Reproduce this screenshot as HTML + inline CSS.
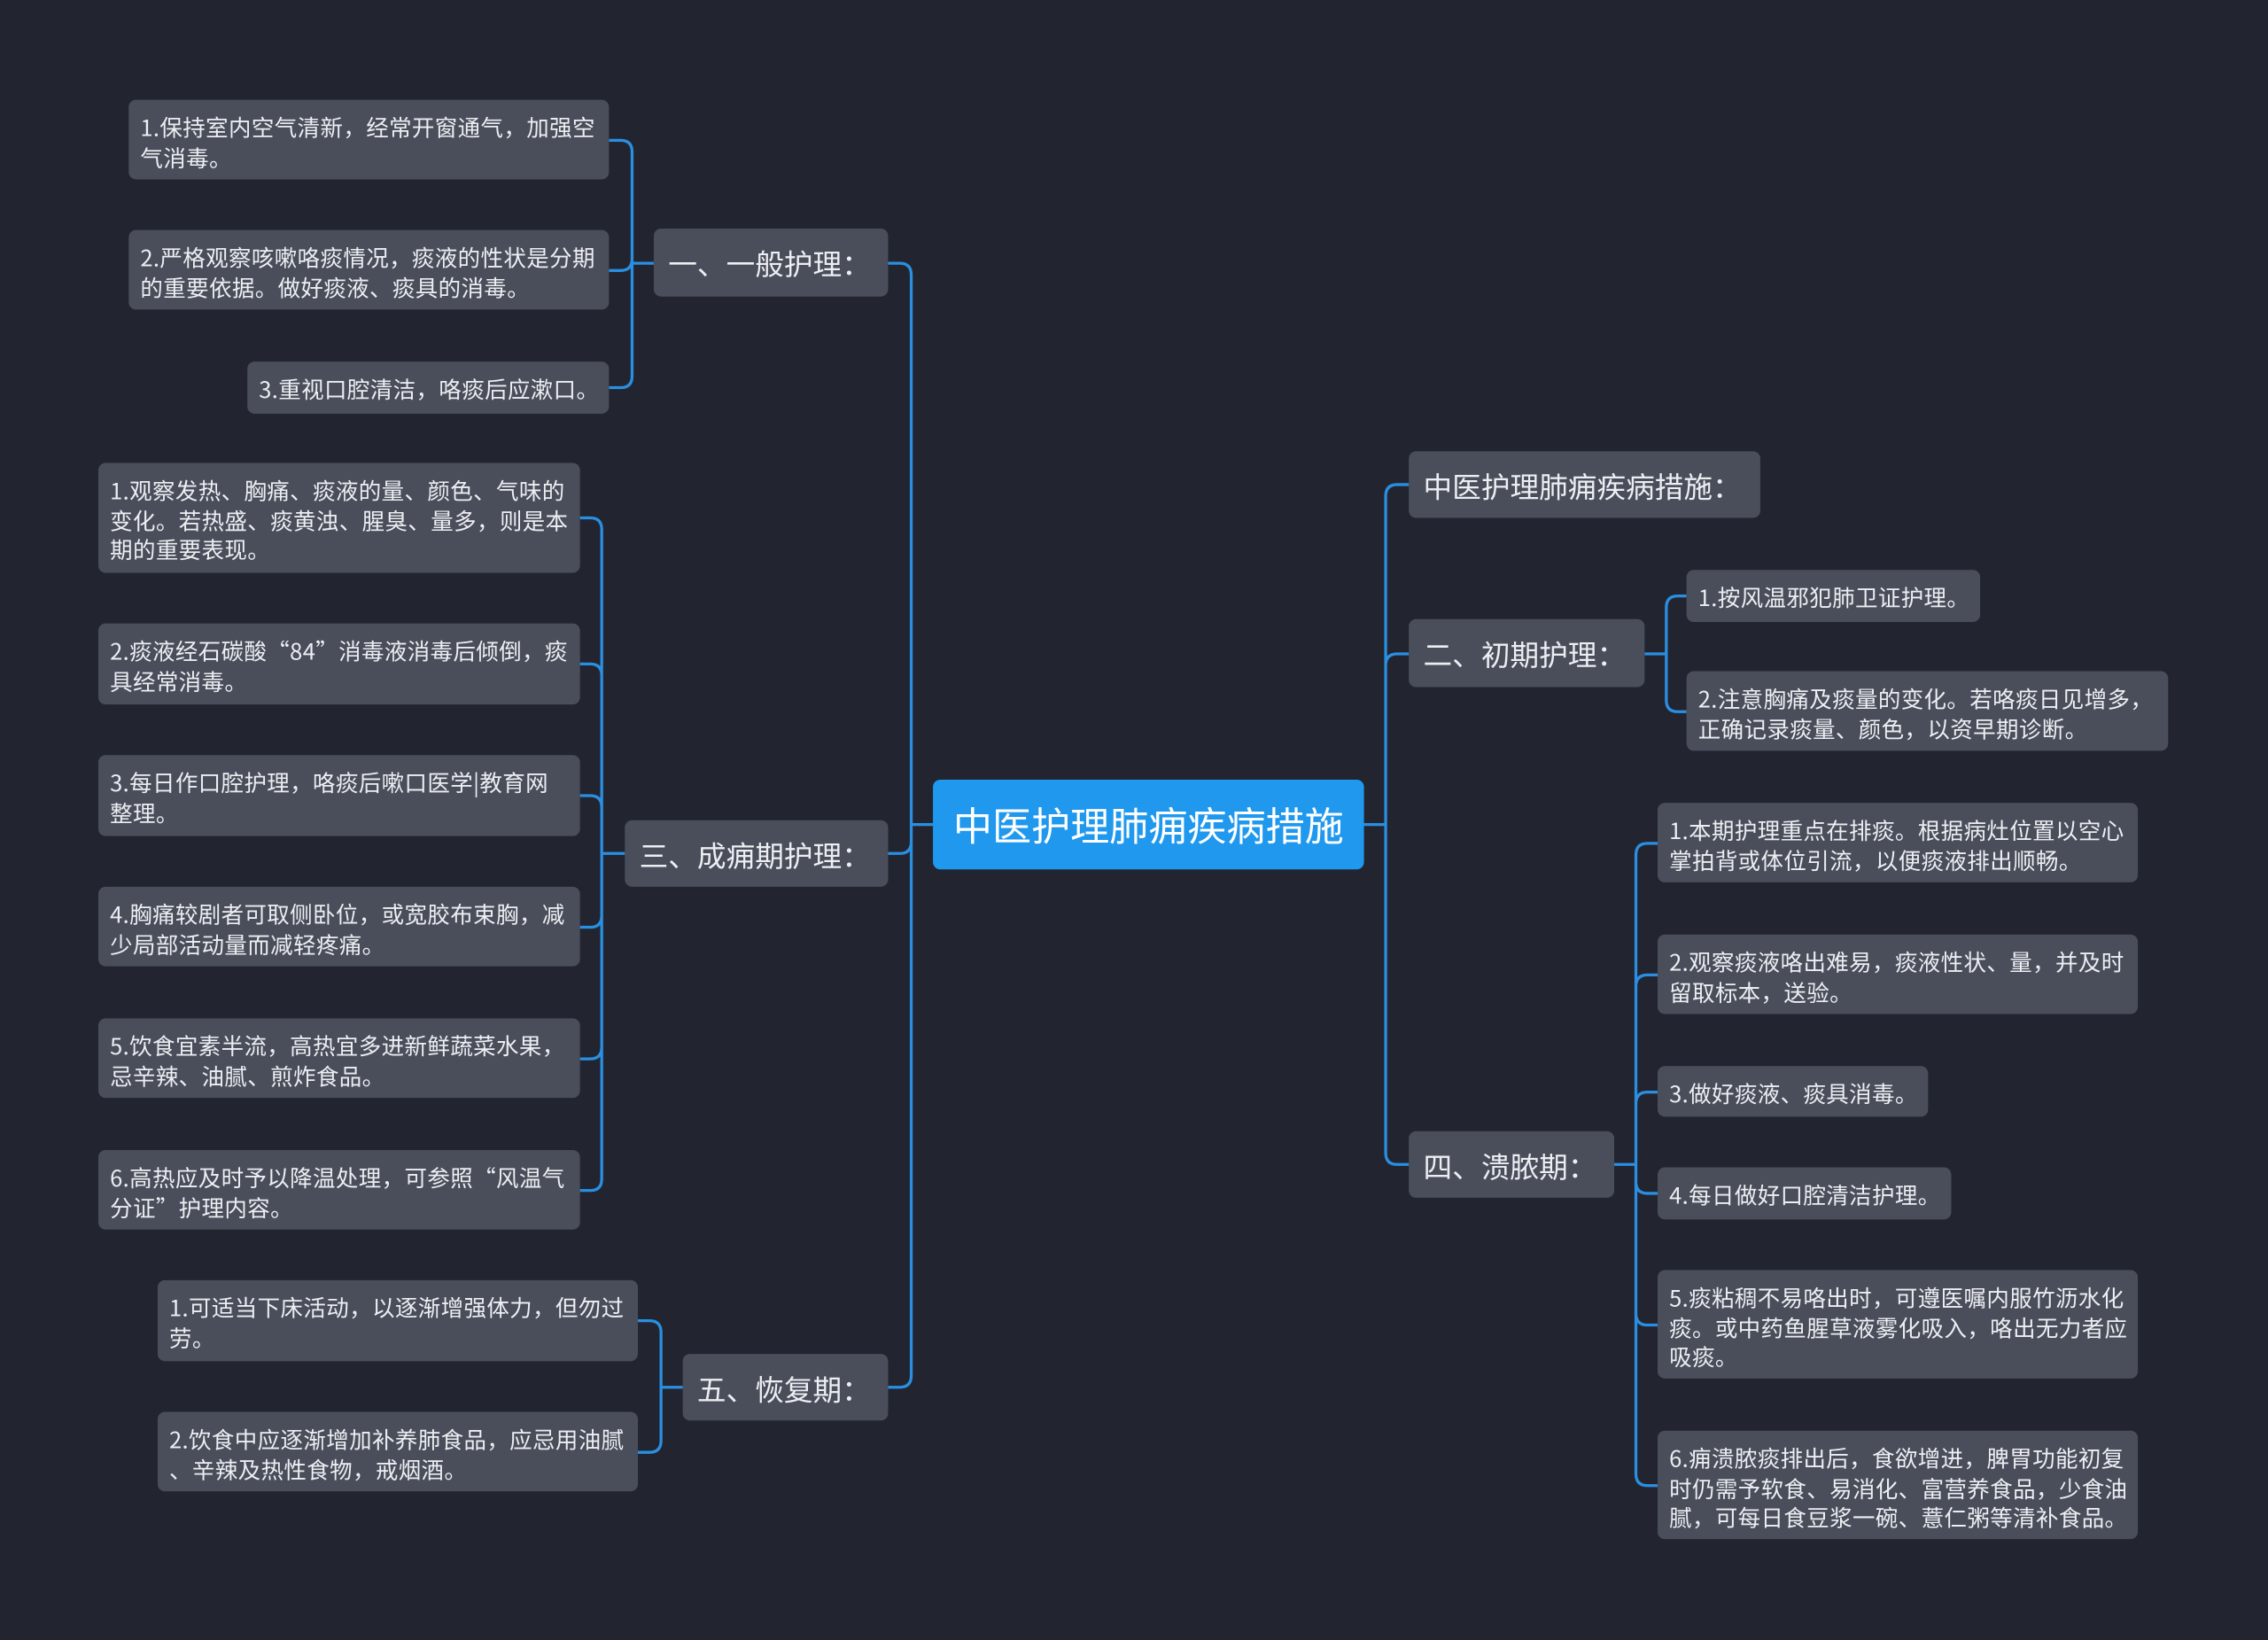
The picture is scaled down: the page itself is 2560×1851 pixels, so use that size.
<!DOCTYPE html>
<html><head><meta charset="utf-8"><style>
html,body{margin:0;padding:0;background:#22252f;overflow:hidden}
#w{position:absolute;left:0;top:0;width:1568px;height:1134px;transform:scale(1.63265);transform-origin:0 0}
.n{position:absolute;box-sizing:border-box;background:#4a4e5b;color:#eceef2;border-radius:5px;font-family:"Noto Sans CJK SC","Liberation Sans",sans-serif;font-size:15.6px;line-height:20.5px;padding:9px 8px 0;white-space:nowrap;letter-spacing:0.25px}
.b{font-size:20px;line-height:46px;padding:1px 10px 0;letter-spacing:0}
.c{background:#1f98ee;color:#fff;font-size:27px;line-height:62px;padding:0 14px;text-align:center;letter-spacing:0}
svg{position:absolute;left:0;top:0}
</style></head><body><div id="w">
<svg width="1568" height="1134" id="s"></svg>
<div class="n c" style="left:645px;top:539px;width:298px;height:62px">中医护理肺痈疾病措施</div>

<div class="n b" style="left:452px;top:158px;width:162px;height:47px">一、一般护理：</div>
<div class="n b" style="left:432px;top:567px;width:182px;height:46px">三、成痈期护理：</div>
<div class="n b" style="left:472px;top:936px;width:142px;height:46px">五、恢复期：</div>
<div class="n b" style="left:974px;top:312px;width:243px;height:46px">中医护理肺痈疾病措施：</div>
<div class="n b" style="left:974px;top:428px;width:163px;height:47px">二、初期护理：</div>
<div class="n b" style="left:974px;top:782px;width:142px;height:46px">四、溃脓期：</div>

<div class="n" style="left:89px;top:69px;width:332px;height:55px">1.保持室内空气清新，经常开窗通气，加强空<br>气消毒。</div>
<div class="n" style="left:89px;top:159px;width:332px;height:55px">2.严格观察咳嗽咯痰情况，痰液的性状是分期<br>的重要依据。做好痰液、痰具的消毒。</div>
<div class="n" style="left:171px;top:250px;width:250px;height:36px">3.重视口腔清洁，咯痰后应漱口。</div>

<div class="n" style="left:68px;top:320px;width:333px;height:76px">1.观察发热、胸痛、痰液的量、颜色、气味的<br>变化。若热盛、痰黄浊、腥臭、量多，则是本<br>期的重要表现。</div>
<div class="n" style="left:68px;top:431px;width:333px;height:56px">2.痰液经石碳酸“84”消毒液消毒后倾倒，痰<br>具经常消毒。</div>
<div class="n" style="left:68px;top:522px;width:333px;height:56px">3.每日作口腔护理，咯痰后嗽口医学|教育网<br>整理。</div>
<div class="n" style="left:68px;top:613px;width:333px;height:55px">4.胸痛较剧者可取侧卧位，或宽胶布束胸，减<br>少局部活动量而减轻疼痛。</div>
<div class="n" style="left:68px;top:704px;width:333px;height:55px">5.饮食宜素半流，高热宜多进新鲜蔬菜水果，<br>忌辛辣、油腻、煎炸食品。</div>
<div class="n" style="left:68px;top:795px;width:333px;height:55px">6.高热应及时予以降温处理，可参照“风温气<br>分证”护理内容。</div>

<div class="n" style="left:109px;top:885px;width:332px;height:56px">1.可适当下床活动，以逐渐增强体力，但勿过<br>劳。</div>
<div class="n" style="left:109px;top:976px;width:332px;height:55px">2.饮食中应逐渐增加补养肺食品，应忌用油腻<br>、辛辣及热性食物，戒烟酒。</div>

<div class="n" style="left:1166px;top:394px;width:203px;height:36px">1.按风温邪犯肺卫证护理。</div>
<div class="n" style="left:1166px;top:464px;width:333px;height:55px">2.注意胸痛及痰量的变化。若咯痰日见增多，<br>正确记录痰量、颜色，以资早期诊断。</div>

<div class="n" style="left:1146px;top:555px;width:332px;height:55px">1.本期护理重点在排痰。根据病灶位置以空心<br>掌拍背或体位引流，以便痰液排出顺畅。</div>
<div class="n" style="left:1146px;top:646px;width:332px;height:55px">2.观察痰液咯出难易，痰液性状、量，并及时<br>留取标本，送验。</div>
<div class="n" style="left:1146px;top:737px;width:187px;height:35px">3.做好痰液、痰具消毒。</div>
<div class="n" style="left:1146px;top:807px;width:203px;height:36px">4.每日做好口腔清洁护理。</div>
<div class="n" style="left:1146px;top:878px;width:332px;height:75px">5.痰粘稠不易咯出时，可遵医嘱内服竹沥水化<br>痰。或中药鱼腥草液雾化吸入，咯出无力者应<br>吸痰。</div>
<div class="n" style="left:1146px;top:989px;width:332px;height:75px">6.痈溃脓痰排出后，食欲增进，脾胃功能初复<br>时仍需予软食、易消化、富营养食品，少食油<br>腻，可每日食豆浆一碗、薏仁粥等清补食品。</div>
</div>
<script>
var s=document.getElementById('s'),d='';
function g(px,py,bx,cx,ys){ys.forEach(function(cy){
 var dir=cx>bx?1:-1,r=8;d+='M'+px+' '+py+'H'+bx;
 if(Math.abs(cy-py)<2){d+='H'+cx;return;}
 var sg=cy>py?1:-1;d+='V'+(cy-sg*r)+'Q'+bx+' '+cy+' '+(bx+dir*r)+' '+cy+'H'+cx;});}
g(645,570,630,614,[182,590,959]);
g(943,570,958,974,[335,452,805]);
g(452,182,437,421,[97,187,268]);
g(432,590,416,401,[358,459,550,641,732,823]);
g(472,959,457,441,[913,1004]);
g(1137,452,1152,1166,[412,492]);
g(1116,805,1131,1146,[583,674,755,825,916,1027]);
s.innerHTML='<path d="'+d+'" fill="none" stroke="#2a8fe2" stroke-width="2"/>';
</script>
</body></html>
